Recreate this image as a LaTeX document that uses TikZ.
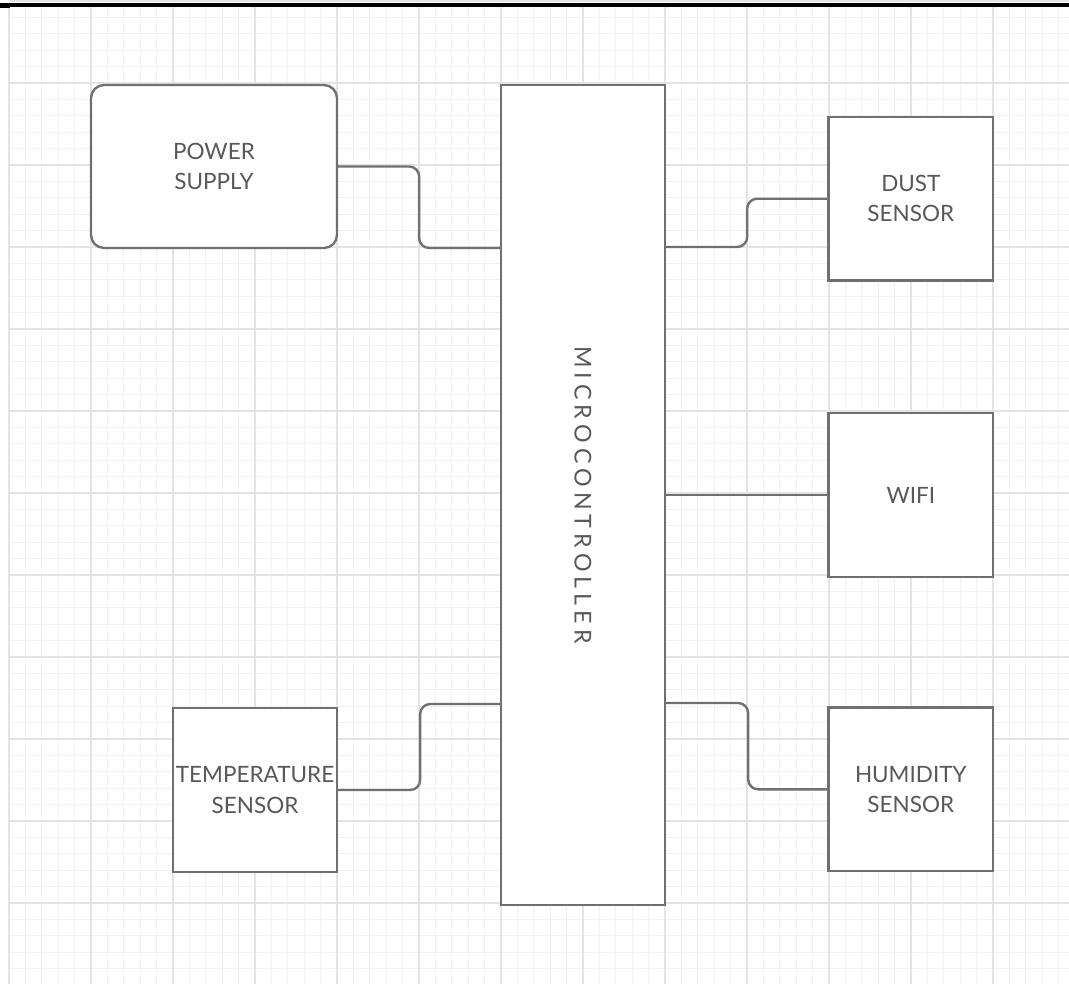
\documentclass[tikz,border=0pt]{standalone}
\usepackage{fontspec}
\setmainfont{Lato}
\usepackage{tikz}
\usetikzlibrary{positioning}

\definecolor{boxline}{HTML}{707070}
\definecolor{boxtext}{HTML}{585858}
\definecolor{gridminor}{HTML}{F2F2F2}
\definecolor{gridmajor}{HTML}{E3E3E3}

\tikzset{
  block/.style={draw=boxline, line width=1.35pt, fill=white, text=boxtext,
    align=center, inner sep=0pt, minimum width=3.3cm, minimum height=3.28cm,
    font=\fontsize{12.8}{17.2}\selectfont},
  wire/.style={draw=boxline, line width=1.35pt, rounded corners=0.2cm},
  minorline/.style={draw=gridminor, line width=0.5pt},
  majorline/.style={draw=gridmajor, line width=0.6pt},
}

\begin{document}
\begin{tikzpicture}[x=0.02cm,y=-0.02cm]
    % page and grid
    \fill[white] (0,0) rectangle (1069,984);
    \useasboundingbox (0,0) rectangle (1069,984);
    \foreach \i in {0,...,64}
        \draw[minorline] ({9+16.4*\i},7) -- ({9+16.4*\i},984);
    \foreach \j in {0,...,59}
        \draw[minorline] (10,{1+16.4*\j}) -- (1069,{1+16.4*\j});
    \foreach \i in {0,...,12}
        \draw[majorline] ({9+82*\i},7) -- ({9+82*\i},984);
    \foreach \j in {0,...,11}
        \draw[majorline] (10,{1+82*\j}) -- (1069,{1+82*\j});
    \fill[black] (0,3) rectangle (1069,7);
    \fill[black] (0,3) rectangle (10,8);

    % blocks
    \node[block, rounded corners=0.26cm, minimum width=4.92cm, minimum height=3.26cm]
        (psu) at (214,166.5) {POWER\\SUPPLY};
    \node[block, minimum width=3.28cm, minimum height=16.4cm] (mcu) at (583,495) {};
    \node[rotate=-90, text=boxtext, font=\fontsize{13.2}{14}\selectfont\addfontfeature{LetterSpace=22}]
        (mculabel) at (mcu.center) {MICROCONTROLLER};
    \node[block] (wifi) [right=3.22cm of mcu] {WIFI};
    \node[block] (dust) [above=2.6cm of wifi] {DUST\\SENSOR};
    \node[block] (humid) [below=2.56cm of wifi] {HUMIDITY\\SENSOR};
    \node[block, minimum width=3.28cm] (temp) at (255,790) {TEMPERATURE\\SENSOR};

    % links
    \draw[wire] (psu.east) -- ++(81,0) |- (mcu.west |- 0,248);
    \draw[wire] (mcu.east |- 0,247) -- ++(81,0) |- (dust.west);
    \draw[wire] (mcu.east |- wifi.west) -- (wifi.west);
    \draw[wire] (temp.east) -- ++(82,0) |- (mcu.west |- 0,704);
    \draw[wire] (mcu.east |- 0,703) -- ++(82,0) |- (humid.west);
\end{tikzpicture}
\end{document}
